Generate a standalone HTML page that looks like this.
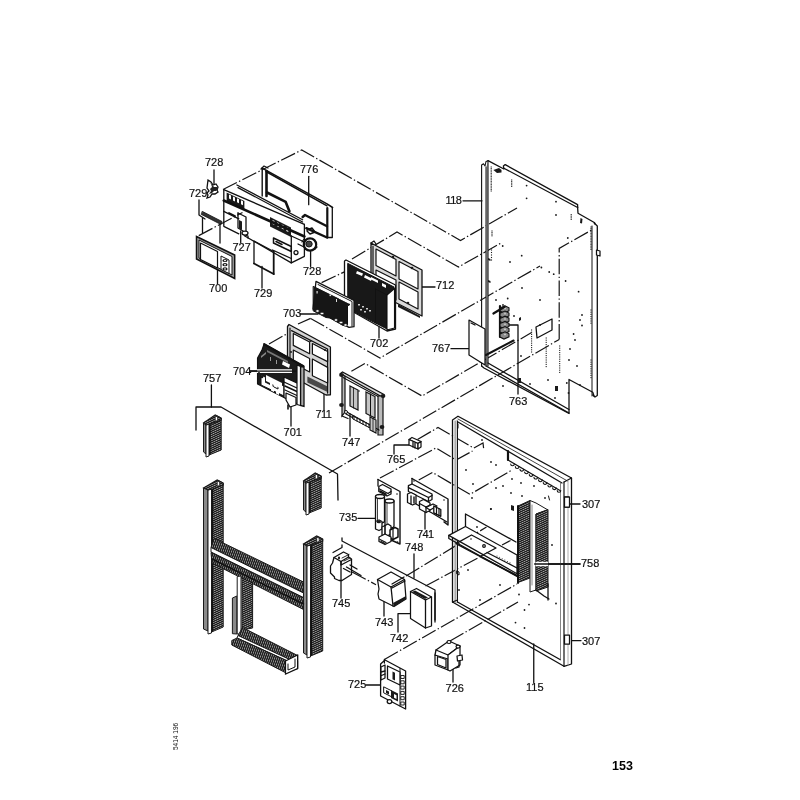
<!DOCTYPE html>
<html><head><meta charset="utf-8"><style>
html,body{margin:0;padding:0;background:#fff;width:800px;height:800px;overflow:hidden}
svg{display:block;transform:translateZ(0)}
.s{fill:none;stroke:#111;stroke-width:1.3;stroke-linejoin:round;stroke-linecap:round}
.dd{fill:none;stroke:#151515;stroke-width:1.2;stroke-dasharray:15.5 2.4 1.4 2.4}
.t{font-family:"Liberation Sans",sans-serif;font-size:11px;fill:#111;stroke:#111;stroke-width:0.2px}
.tb{font-family:"Liberation Sans",sans-serif;font-size:12.5px;font-weight:bold;fill:#000}
.tr{font-family:"Liberation Sans",sans-serif;font-size:6.5px;fill:#111}
.f{fill:#1a1a1a;stroke:none}
.w{fill:#fff;stroke:#111;stroke-width:1.25;stroke-linejoin:round}
.g{fill:#555;stroke:#1a1a1a;stroke-width:1}
</style></head><body>
<svg width="800" height="800" viewBox="0 0 800 800">
<defs>
<pattern id="ribv" patternUnits="userSpaceOnUse" width="6" height="2.1" patternTransform="skewY(-25)"><rect width="6" height="2.1" fill="#1e1e1e"/><rect y="1.5" width="6" height="0.55" fill="#c8c8c8"/></pattern>
<pattern id="ribh" patternUnits="userSpaceOnUse" width="2.1" height="6" patternTransform="skewX(-20)"><rect width="2.1" height="6" fill="#1e1e1e"/><rect x="1.5" width="0.5" height="6" fill="#c8c8c8"/></pattern>
<pattern id="grid" patternUnits="userSpaceOnUse" width="2.5" height="2.5" patternTransform="skewY(27)"><rect width="2.5" height="2.5" fill="#262626"/><rect x="1.7" y="1.7" width="0.6" height="0.6" fill="#888"/></pattern>
<pattern id="grid2" patternUnits="userSpaceOnUse" width="3" height="3" patternTransform="skewY(27)"><rect width="3" height="3" fill="#1c1c1c"/><rect x="2" y="2" width="0.7" height="0.7" fill="#777"/></pattern>
</defs>
<text class="t" x="205" y="166.3">728</text>
<text class="t" x="189" y="197.3">729</text>
<text class="t" x="300" y="173.3">776</text>
<text class="t" x="445.5" y="203.8" style="letter-spacing:-0.6px">118</text>
<text class="t" x="232.5" y="250.8">727</text>
<text class="t" x="303" y="275.3">728</text>
<text class="t" x="209" y="292.3">700</text>
<text class="t" x="254" y="297.3">729</text>
<text class="t" x="436" y="289.3">712</text>
<text class="t" x="283" y="317.3">703</text>
<text class="t" x="370" y="347.3">702</text>
<text class="t" x="432" y="352.3">767</text>
<text class="t" x="233" y="375.3">704</text>
<text class="t" x="203" y="381.8">757</text>
<text class="t" x="509" y="405.3">763</text>
<text class="t" x="315.6" y="418.3" style="letter-spacing:-0.6px">711</text>
<text class="t" x="283.6" y="436.3">701</text>
<text class="t" x="342" y="446.3">747</text>
<text class="t" x="387" y="463.3">765</text>
<text class="t" x="582" y="508.3">307</text>
<text class="t" x="339" y="521.3">735</text>
<text class="t" x="417" y="538.3" style="letter-spacing:-0.6px">741</text>
<text class="t" x="405" y="551.3">748</text>
<text class="t" x="581" y="566.8">758</text>
<text class="t" x="332" y="607.3">745</text>
<text class="t" x="375" y="626.3">743</text>
<text class="t" x="390" y="642.3">742</text>
<text class="t" x="582" y="645.3">307</text>
<text class="t" x="348" y="688.3">725</text>
<text class="t" x="445.6" y="691.7">726</text>
<text class="t" x="526" y="691.3">115</text>
<text class="tb" x="612" y="770">153</text>
<text class="tr" transform="translate(178,750) rotate(-90)">5414 196</text>
<polyline class="s" points="214,170 214,184" />
<polyline class="s" points="199,200 199,215 205,219" />
<polyline class="s" points="308.7,176.3 308.7,204.7" />
<polyline class="s" points="463,200.8 482,200.8" />
<polyline class="s" points="240.7,231 240.7,242.5" />
<polyline class="s" points="310.6,251.5 310.6,266.5" />
<polyline class="s" points="217.5,269.5 217.5,283.7" />
<polyline class="s" points="262,266.5 262,288" />
<polyline class="s" points="418,287 435,287" />
<polyline class="s" points="300,314 318,314" />
<polyline class="s" points="379,326 379,338" />
<polyline class="s" points="451,348.7 473,348.7" />
<polyline class="s" points="508,325 518,325 518,394" />
<polyline class="s" points="250,371 290,371" />
<polyline class="s" points="324,384 324,410" />
<polyline class="s" points="291,404 291,426" />
<polyline class="s" points="350,414 350,436" />
<polyline class="s" points="409,445 394,445 394,454" />
<polyline class="s" points="569,504 580,504" />
<polyline class="s" points="358,518.4 380,518.4" />
<polyline class="s" points="425,509 425,529" />
<polyline class="s" points="533.5,564 580,564" />
<polyline class="s" points="341,581 341,598" />
<polyline class="s" points="384,598 384,616" />
<polyline class="s" points="418,613.6 398,613.6 398,632" />
<polyline class="s" points="572,640.6 581,640.6" />
<polyline class="s" points="366,685 389,685" />
<polyline class="s" points="453,665 453,682" />
<polyline class="s" points="533.75,644 533.75,682.5" />
<polyline class="s" points="211.4,385 211.4,407" />
<polyline class="s" points="196,430 196,407 221,407 337.5,474 338,500" />
<polyline class="s" points="414,554 414,578" />
<polyline class="s" points="342,538 342,541 435,590 435,620" />
<polyline class="s" points="333,552.5 342,547.5 342,545" />
<polyline class="dd" points="223,189.5 301.7,150 460.5,240.5 517,208" />
<polyline class="dd" points="352,259 397,232 458.5,267 501,243" />
<polyline class="dd" points="321.6,282.6 345,271.6" />
<polyline class="dd" points="310.6,318.4 380,358 540,266" />
<polyline class="dd" points="298,324 310.6,318.4" />
<polyline class="dd" points="269,344 289,332.6" />
<polyline class="dd" points="351.4,371.2 365,363.4 422,396 531.6,332.6" />
<polyline class="dd" points="329,473 559.2,339.4" />
<polyline class="dd" points="417.5,439.4 438,427.5 473.75,448 483,443 483.75,449.4" />
<polyline class="dd" points="380,478 436,448 456,460 472.5,451" />
<polyline class="dd" points="418.75,480 432.5,472.5 470,494.4 512,470" />
<polyline class="dd" points="352,572 376,584.7" />
<polyline class="dd" points="406,576 486.5,527" />
<polyline class="dd" points="425.5,586 510.5,540.5" />
<polyline class="dd" points="384.4,659.4 517,584" />
<polyline class="dd" points="450,641 518,602" />
<path fill="#fff" stroke="#111" stroke-width="1.3" d="M208,180 l3,2 l2,3 l3,-1 l2,3 l-1,3 l1,2 l-3,2 l-3,0 l-2,3 l-3,1 l1,-3 l-1,-2 l2,-2 l-2,-3 z"/>
<path fill="#222" d="M209,181 l2,3 l1,3 l-2,2 l1,2 l-2,3 l3,-1 l2,-2 l2,0 l2,-2 l-1,-2 l-3,0 z"/>
<polygon class="s" points="202.5,211.5 222,221.5 221,224.5 201.5,214.5" style="fill:#333;stroke-width:0.8"/>
<polyline class="s" points="202.5,218 202.5,232.5" />
<polyline class="s" points="220,225 220,243" />
<polygon fill="#9a9a9a" stroke="#111" stroke-width="1.5" points="196.5,236.5 234.7,255 234.7,278.5 196.5,259"/>
<polygon class="w" points="199,240 232,256.5 232,275 199,258" style="stroke-width:1"/>
<polygon class="w" points="200.5,243 217.5,251.5 217.5,268 200.5,259.5" style="stroke-width:1.2"/>
<polygon class="w" points="221,256 229,260 229,273.5 221,269.5" style="stroke-width:1"/>
<ellipse class="f" cx="225" cy="260.5" rx="2.6" ry="1.6"/>
<ellipse fill="#fff" cx="225" cy="260.5" rx="1" ry="0.7"/>
<ellipse class="f" cx="225" cy="264.7" rx="2.6" ry="1.6"/>
<ellipse fill="#fff" cx="225" cy="264.7" rx="1" ry="0.7"/>
<ellipse class="f" cx="225" cy="268.9" rx="2.6" ry="1.6"/>
<ellipse fill="#fff" cx="225" cy="268.9" rx="1" ry="0.7"/>
<polyline class="dd" points="198.75,235.6 242.5,212.5" />
<polyline class="s" points="238,213 246,217 246,232" />
<polyline class="s" points="238,213 238,228 243,231" />
<polygon class="f" points="239,220 242,221.5 242,230 239,228.5" />
<polyline class="s" points="243,234 248,236 248,238" />
<ellipse class="w" cx="245" cy="233" rx="3" ry="2"/>
<polyline class="s" points="254,263.5 254,241 273.7,251.5" />
<polyline class="s" points="254,263.5 273.7,274" style="stroke-width:1.8"/>
<polyline class="s" points="273.7,251.5 273.7,274" style="stroke-width:1.8"/>
<ellipse fill="#fff" stroke="#111" stroke-width="2.2" cx="310" cy="244.5" rx="6.2" ry="6.2"/>
<ellipse fill="#444" stroke="#111" stroke-width="1" cx="309" cy="244" rx="3.2" ry="3"/>
<path class="s" d="M304,239 l-2,3 M315,249 l2,-2" style="stroke-width:1.2"/>
<polyline class="s" points="262.2,168.1 327,203.8 332.6,207.5" style="stroke-width:1.5"/>
<polyline class="s" points="266,171.5 327,205.8" style="stroke-width:1.5"/>
<polyline class="s" points="262.2,168.1 262.2,196" style="stroke-width:1.4"/>
<polyline class="s" points="266.5,171 266.5,196" style="stroke-width:2.6"/>
<polyline class="s" points="267,192.5 285.7,201.9 289.4,211.3" style="stroke-width:2.6"/>
<polyline class="s" points="327.3,208 327.3,237.5" style="stroke-width:2.2"/>
<polyline class="s" points="332.3,208 332.3,237.5 327.3,237.5" style="stroke-width:1.3"/>
<polyline class="s" points="302.6,217 305,215 327,226.3" style="stroke-width:2.4"/>
<polyline class="s" points="306.3,228.2 327,237.5" style="stroke-width:2.4"/>
<polyline class="s" points="307,230 312,228 315,232 310,234 307,231" style="stroke-width:1.4"/>
<polyline class="s" points="261,169 264,166 268,168" style="stroke-width:1.2"/>
<polyline class="s" points="223.8,189.7 304.4,224.4" />
<polyline class="s" points="236.9,185 302.6,219.7" style="stroke-width:1.3"/>
<polyline class="s" points="238,187.6 302.6,222" style="stroke-width:1.3"/>
<polygon class="f" points="226.6,192.5 244.4,201 244.4,209.4 226.6,201.9" />
<polygon class="f" points="270,217 291,227.5 291,237 270,226.5" />
<polygon class="w" points="229,194.5 231,195.5 231,199.5 229,198.5" style="stroke-width:0"/>
<polygon class="w" points="233,196.4 235,197.4 235,201.4 233,200.4" style="stroke-width:0"/>
<polygon class="w" points="237,198.3 239,199.3 239,203.3 237,202.3" style="stroke-width:0"/>
<polygon class="w" points="241,200.2 243,201.2 243,205.2 241,204.2" style="stroke-width:0"/>
<polygon class="w" points="272.5,220.0 274.5,221.0 274.5,225.0 272.5,224.0" style="stroke-width:0"/>
<polygon class="w" points="277.1,222.3 279.1,223.3 279.1,227.3 277.1,226.3" style="stroke-width:0"/>
<polygon class="w" points="281.7,224.6 283.7,225.6 283.7,229.6 281.7,228.6" style="stroke-width:0"/>
<polygon class="w" points="286.3,226.9 288.3,227.9 288.3,231.9 286.3,230.9" style="stroke-width:0"/>
<polyline class="s" points="223.8,200.5 304.4,236.5" style="stroke-width:2.6"/>
<polyline class="s" points="223.8,189.7 223.8,226.3 238.8,233.8" />
<polyline class="s" points="223.8,211.3 238.8,218.8" />
<polyline class="s" points="229,213 235,216" style="stroke-width:1.8"/>
<polyline class="s" points="244.4,235.7 291.3,262.9 304.4,256.3 304.4,224.4" />
<polyline class="s" points="291.3,236 291.3,262.9" />
<polyline class="s" points="291.3,236 304.4,242" />
<polygon class="s" points="273.5,238 291.3,246.5 291.3,251.5 273.5,243" style="stroke-width:1.5"/>
<polyline class="s" points="276,241.5 282,244.5" style="stroke-width:1.5"/>
<polyline class="s" points="272.5,250 291.3,258.5" />
<circle class="w" cx="296" cy="252.6" r="2"/>
<polyline class="s" points="298,244 304,247" />
<polygon class="s" points="371,243 422,270 422,316 371,290" style="fill:#dadada;stroke-width:1.3"/>
<polyline class="s" points="371,243 374,241 376,244" />
<polyline class="s" points="373,246 373,288" style="stroke-width:1.2"/>
<polygon class="w" points="376,249 396,259.5 396,276 376,265.5" style="stroke-width:1.2"/>
<polygon class="w" points="399,261.5 418,271.5 418,289 399,279" style="stroke-width:1.2"/>
<polygon class="w" points="399,282 418,292 418,309 399,299" style="stroke-width:1.2"/>
<polygon class="w" points="376,270 396,280 396,300 376,290" style="stroke-width:1.2"/>
<polygon class="f" points="398,304 420,316 420,318 398,307" />
<circle class="f" cx="393" cy="257" r="1.3"/><circle class="f" cx="412" cy="268" r="1.3"/><circle class="f" cx="408" cy="303" r="1.3"/>
<polygon class="w" points="346,260 395.5,285 395.5,329 387,331 344.5,307 344.5,261" style="stroke-width:1.3"/>
<polygon class="s" points="348,263.5 394,287 394,291 387,295 387,329 375.5,323 362,316 353,311 348,306" style="fill:#181818;stroke-width:1"/>
<polygon class="w" points="387,295 394.5,288.5 394.5,328 387,330" style="stroke-width:1.1"/>
<polyline class="s" points="375.5,289 375.5,323" style="stroke-width:1"/>
<polyline class="s" points="375.5,289 387,295" style="stroke-width:0.8"/>
<polygon class="w" points="357,271 363,273.5 362,276 356,273.5" style="stroke-width:0"/>
<polygon class="w" points="365,275 372,278.5 371,281 364,277.5" style="stroke-width:0"/>
<polygon class="w" points="371,277 378,280.5 378,283 371,279.5" style="stroke-width:0"/>
<polygon class="w" points="382,283 386,285 386,288 382,286" style="stroke-width:0"/>
<rect fill="#ccc" x="358" y="304" width="2" height="1.5"/>
<rect fill="#ccc" x="362" y="306" width="2" height="1.5"/>
<rect fill="#ccc" x="366" y="308" width="2" height="1.5"/>
<rect fill="#ccc" x="360" y="309" width="2" height="1.5"/>
<rect fill="#ccc" x="364" y="311" width="2" height="1.5"/>
<rect fill="#ccc" x="369" y="310" width="2" height="1.5"/>
<polygon class="w" points="316,281.3 354,300.5 354,326.7 349,327.3 313,309" style="stroke-width:1.3"/>
<polygon class="s" points="313.5,286.5 350,304.5 347.5,306 347.5,325 343,325.5 330,318 326,317.5 313.5,311" style="fill:#161616;stroke-width:1"/>
<polyline class="s" points="318,284.5 352,301.5 352,326" style="stroke-width:1"/>
<ellipse fill="#fff" stroke="#111" stroke-width="0.7" cx="317.5" cy="311" rx="1.8" ry="1.3"/>
<ellipse fill="#fff" stroke="#111" stroke-width="0.7" cx="322" cy="313.5" rx="1.8" ry="1.3"/>
<ellipse fill="#fff" stroke="#111" stroke-width="0.7" cx="336" cy="320" rx="1.8" ry="1.3"/>
<ellipse fill="#fff" stroke="#111" stroke-width="0.7" cx="341" cy="322.5" rx="1.8" ry="1.3"/>
<ellipse fill="#fff" stroke="#111" stroke-width="0.7" cx="345.5" cy="325" rx="1.8" ry="1.3"/>
<polygon class="w" points="339,297 349,302 349,303.5 339,298.5" style="stroke-width:0"/>
<rect fill="#ddd" x="316.5" y="291" width="1.2" height="2.5"/><rect fill="#ddd" x="329.5" y="294.5" width="1.6" height="1.6"/><rect fill="#ddd" x="336" y="299" width="1" height="3"/>
<polygon fill="#bdbdbd" stroke="none" points="486,167 488,162 488,366 486,366"/>
<polyline class="s" points="481.6,366 481.6,165 483.5,163.8 485,166 486,161.5 488,160.7" style="stroke-width:1.1"/>
<polyline class="s" points="486,167 486,366" style="stroke-width:1"/>
<polyline class="s" points="488,160.7 488,366" style="stroke-width:1.1"/>
<polyline class="s" points="488,160.7 503.9,169 503.4,166 505.2,164.6 577.6,204.6 577.6,207.5" />
<polyline class="s" points="503.9,168.2 577.6,207.5" />
<polyline class="s" points="577.6,207 578,213.2 594.7,222.8 595,224" />
<polyline class="s" points="592,226 592,396" style="stroke-width:1"/>
<polyline class="s" points="594.2,223 597.3,226 597.3,395.5 595,397 592.75,395" />
<polygon class="w" points="596.5,250 600,251 600,256 596.5,255" />
<polyline class="s" points="481.6,366 484,368 569,413.5 569,379.5 592.75,392.25 594,396" />
<polyline class="s" points="488,363 569,409.5" />
<polyline class="s" points="486,366 569,413" />
<polyline class="dd" points="559.2,339.4 559.2,248.4 592,229.8" />
<rect class="f" x="559.1500000000001" y="345.45" width="1.1" height="1.1"/>
<rect class="f" x="559.1500000000001" y="347.65" width="1.1" height="1.1"/>
<rect class="f" x="559.1500000000001" y="349.84999999999997" width="1.1" height="1.1"/>
<rect class="f" x="559.1500000000001" y="352.04999999999995" width="1.1" height="1.1"/>
<rect class="f" x="559.1500000000001" y="354.24999999999994" width="1.1" height="1.1"/>
<rect class="f" x="559.1500000000001" y="356.44999999999993" width="1.1" height="1.1"/>
<rect class="f" x="559.1500000000001" y="358.6499999999999" width="1.1" height="1.1"/>
<rect class="f" x="559.1500000000001" y="360.8499999999999" width="1.1" height="1.1"/>
<rect class="f" x="559.1500000000001" y="363.0499999999999" width="1.1" height="1.1"/>
<rect class="f" x="559.1500000000001" y="365.2499999999999" width="1.1" height="1.1"/>
<rect class="f" x="559.1500000000001" y="367.4499999999999" width="1.1" height="1.1"/>
<rect class="f" x="559.1500000000001" y="369.64999999999986" width="1.1" height="1.1"/>
<rect class="f" x="559.1500000000001" y="371.84999999999985" width="1.1" height="1.1"/>
<rect class="f" x="490.65" y="166.45" width="1.1" height="1.1"/>
<rect class="f" x="490.65" y="168.04999999999998" width="1.1" height="1.1"/>
<rect class="f" x="490.65" y="169.64999999999998" width="1.1" height="1.1"/>
<rect class="f" x="490.65" y="171.24999999999997" width="1.1" height="1.1"/>
<rect class="f" x="490.65" y="172.84999999999997" width="1.1" height="1.1"/>
<rect class="f" x="490.65" y="174.44999999999996" width="1.1" height="1.1"/>
<rect class="f" x="490.65" y="176.04999999999995" width="1.1" height="1.1"/>
<rect class="f" x="490.65" y="177.64999999999995" width="1.1" height="1.1"/>
<rect class="f" x="490.65" y="179.24999999999994" width="1.1" height="1.1"/>
<rect class="f" x="490.65" y="180.84999999999994" width="1.1" height="1.1"/>
<rect class="f" x="490.65" y="182.44999999999993" width="1.1" height="1.1"/>
<rect class="f" x="490.65" y="184.04999999999993" width="1.1" height="1.1"/>
<rect class="f" x="490.65" y="185.64999999999992" width="1.1" height="1.1"/>
<rect class="f" x="490.65" y="187.24999999999991" width="1.1" height="1.1"/>
<rect class="f" x="490.65" y="188.8499999999999" width="1.1" height="1.1"/>
<rect class="f" x="490.65" y="190.4499999999999" width="1.1" height="1.1"/>
<rect class="f" x="590.45" y="226.45" width="1.1" height="1.1"/>
<rect class="f" x="590.45" y="228.04999999999998" width="1.1" height="1.1"/>
<rect class="f" x="590.45" y="229.64999999999998" width="1.1" height="1.1"/>
<rect class="f" x="590.45" y="231.24999999999997" width="1.1" height="1.1"/>
<rect class="f" x="590.45" y="232.84999999999997" width="1.1" height="1.1"/>
<rect class="f" x="590.45" y="234.44999999999996" width="1.1" height="1.1"/>
<rect class="f" x="590.45" y="236.04999999999995" width="1.1" height="1.1"/>
<rect class="f" x="590.45" y="237.64999999999995" width="1.1" height="1.1"/>
<rect class="f" x="590.45" y="239.24999999999994" width="1.1" height="1.1"/>
<rect class="f" x="590.45" y="240.84999999999994" width="1.1" height="1.1"/>
<rect class="f" x="590.45" y="242.44999999999993" width="1.1" height="1.1"/>
<rect class="f" x="590.45" y="244.04999999999993" width="1.1" height="1.1"/>
<rect class="f" x="590.45" y="245.64999999999992" width="1.1" height="1.1"/>
<rect class="f" x="590.45" y="247.24999999999991" width="1.1" height="1.1"/>
<rect class="f" x="590.45" y="248.8499999999999" width="1.1" height="1.1"/>
<rect class="f" x="491.45" y="230.45" width="1.1" height="1.1"/>
<rect class="f" x="491.45" y="232.04999999999998" width="1.1" height="1.1"/>
<rect class="f" x="491.45" y="233.64999999999998" width="1.1" height="1.1"/>
<rect class="f" x="491.45" y="235.24999999999997" width="1.1" height="1.1"/>
<rect class="f" x="490.95" y="249.45" width="1.1" height="1.1"/>
<rect class="f" x="490.95" y="251.95" width="1.1" height="1.1"/>
<rect class="f" x="490.95" y="254.45" width="1.1" height="1.1"/>
<rect class="f" x="490.95" y="256.95" width="1.1" height="1.1"/>
<rect class="f" x="490.95" y="259.45" width="1.1" height="1.1"/>
<rect class="f" x="511.15" y="179.45" width="1.1" height="1.1"/>
<rect class="f" x="511.15" y="181.04999999999998" width="1.1" height="1.1"/>
<rect class="f" x="511.15" y="182.64999999999998" width="1.1" height="1.1"/>
<rect class="f" x="511.15" y="184.24999999999997" width="1.1" height="1.1"/>
<rect class="f" x="511.15" y="185.84999999999997" width="1.1" height="1.1"/>
<rect class="f" x="570.6500000000001" y="214.04999999999998" width="1.1" height="1.1"/>
<rect class="f" x="570.6500000000001" y="215.64999999999998" width="1.1" height="1.1"/>
<rect class="f" x="570.6500000000001" y="217.24999999999997" width="1.1" height="1.1"/>
<rect class="f" x="570.6500000000001" y="218.84999999999997" width="1.1" height="1.1"/>
<rect class="f" x="531.0500000000001" y="329.45" width="1.1" height="1.1"/>
<rect class="f" x="531.0500000000001" y="331.65" width="1.1" height="1.1"/>
<rect class="f" x="531.0500000000001" y="333.84999999999997" width="1.1" height="1.1"/>
<rect class="f" x="531.0500000000001" y="336.04999999999995" width="1.1" height="1.1"/>
<rect class="f" x="531.0500000000001" y="338.24999999999994" width="1.1" height="1.1"/>
<rect class="f" x="531.0500000000001" y="340.44999999999993" width="1.1" height="1.1"/>
<rect class="f" x="531.0500000000001" y="342.6499999999999" width="1.1" height="1.1"/>
<rect class="f" x="531.0500000000001" y="344.8499999999999" width="1.1" height="1.1"/>
<rect class="f" x="531.0500000000001" y="347.0499999999999" width="1.1" height="1.1"/>
<rect class="f" x="531.0500000000001" y="349.2499999999999" width="1.1" height="1.1"/>
<rect class="f" x="531.0500000000001" y="351.4499999999999" width="1.1" height="1.1"/>
<rect class="f" x="545.6500000000001" y="337.45" width="1.1" height="1.1"/>
<rect class="f" x="545.6500000000001" y="339.65" width="1.1" height="1.1"/>
<rect class="f" x="545.6500000000001" y="341.84999999999997" width="1.1" height="1.1"/>
<rect class="f" x="545.6500000000001" y="344.04999999999995" width="1.1" height="1.1"/>
<rect class="f" x="545.6500000000001" y="346.24999999999994" width="1.1" height="1.1"/>
<rect class="f" x="545.6500000000001" y="348.44999999999993" width="1.1" height="1.1"/>
<rect class="f" x="545.6500000000001" y="350.6499999999999" width="1.1" height="1.1"/>
<rect class="f" x="545.6500000000001" y="352.8499999999999" width="1.1" height="1.1"/>
<rect class="f" x="545.6500000000001" y="355.0499999999999" width="1.1" height="1.1"/>
<rect class="f" x="545.6500000000001" y="357.2499999999999" width="1.1" height="1.1"/>
<rect class="f" x="545.6500000000001" y="359.4499999999999" width="1.1" height="1.1"/>
<rect class="f" x="545.6500000000001" y="361.64999999999986" width="1.1" height="1.1"/>
<rect class="f" x="545.6500000000001" y="363.84999999999985" width="1.1" height="1.1"/>
<rect class="f" x="545.6500000000001" y="366.04999999999984" width="1.1" height="1.1"/>
<rect class="f" x="590.45" y="309.45" width="1.1" height="1.1"/>
<rect class="f" x="590.45" y="311.65" width="1.1" height="1.1"/>
<rect class="f" x="590.45" y="313.84999999999997" width="1.1" height="1.1"/>
<rect class="f" x="590.45" y="316.04999999999995" width="1.1" height="1.1"/>
<rect class="f" x="590.45" y="318.24999999999994" width="1.1" height="1.1"/>
<rect class="f" x="590.45" y="320.44999999999993" width="1.1" height="1.1"/>
<rect class="f" x="590.45" y="322.6499999999999" width="1.1" height="1.1"/>
<rect class="f" x="590.45" y="359.45" width="1.1" height="1.1"/>
<rect class="f" x="590.45" y="361.65" width="1.1" height="1.1"/>
<rect class="f" x="590.45" y="363.84999999999997" width="1.1" height="1.1"/>
<rect class="f" x="590.45" y="366.04999999999995" width="1.1" height="1.1"/>
<rect class="f" x="590.45" y="368.24999999999994" width="1.1" height="1.1"/>
<rect class="f" x="590.45" y="370.44999999999993" width="1.1" height="1.1"/>
<rect class="f" x="590.45" y="372.6499999999999" width="1.1" height="1.1"/>
<rect class="f" x="590.45" y="374.8499999999999" width="1.1" height="1.1"/>
<rect class="f" x="590.45" y="377.0499999999999" width="1.1" height="1.1"/>
<circle class="f" cx="526.6" cy="185.6" r="0.9"/>
<circle class="f" cx="526.6" cy="198.3" r="0.9"/>
<circle class="f" cx="556" cy="201.7" r="0.9"/>
<circle class="f" cx="556" cy="215" r="0.9"/>
<circle class="f" cx="567.8" cy="238" r="0.9"/>
<circle class="f" cx="521.7" cy="255.7" r="0.9"/>
<circle class="f" cx="541.4" cy="267.5" r="0.9"/>
<circle class="f" cx="549.2" cy="272" r="0.9"/>
<circle class="f" cx="553.7" cy="274.2" r="0.9"/>
<circle class="f" cx="565.6" cy="281" r="0.9"/>
<circle class="f" cx="510" cy="262" r="0.9"/>
<circle class="f" cx="522" cy="288" r="0.9"/>
<circle class="f" cx="540" cy="300" r="0.9"/>
<circle class="f" cx="503" cy="305" r="0.9"/>
<circle class="f" cx="496" cy="300" r="0.9"/>
<circle class="f" cx="514" cy="316" r="0.9"/>
<circle class="f" cx="540" cy="325" r="0.9"/>
<circle class="f" cx="580" cy="320" r="0.9"/>
<circle class="f" cx="575" cy="340" r="0.9"/>
<circle class="f" cx="569" cy="360" r="0.9"/>
<circle class="f" cx="548" cy="380" r="0.9"/>
<circle class="f" cx="530" cy="384" r="0.9"/>
<circle class="f" cx="503" cy="386" r="0.9"/>
<circle class="f" cx="555" cy="398" r="0.9"/>
<circle class="f" cx="580" cy="385" r="0.9"/>
<circle class="f" cx="502.7" cy="246" r="0.9"/>
<circle class="f" cx="578.6" cy="291.7" r="0.9"/>
<circle class="f" cx="507.7" cy="298.5" r="0.9"/>
<circle class="f" cx="582" cy="315" r="0.9"/>
<circle class="f" cx="582" cy="325.5" r="0.9"/>
<circle class="f" cx="573.6" cy="334" r="0.9"/>
<circle class="f" cx="570" cy="349" r="0.9"/>
<circle class="f" cx="577" cy="366" r="0.9"/>
<circle class="f" cx="521" cy="356" r="0.9"/>
<circle class="f" cx="566.8" cy="383" r="0.9"/>
<circle class="f" cx="568.5" cy="393" r="0.9"/>
<polygon class="f" points="493.4,170 499,168 501.5,170 501.5,172.5 497,173" />
<polygon class="f" points="580.5,218 582.5,219 582,223.5 580,223" />
<polygon class="w" points="469,320 485,329 485,365 469,355" />
<polyline class="s" points="471,323 475,325" />
<polygon class="s" points="536,327 552,319 552,330 537,338" />
<polyline class="s" points="500,306 500,337" style="stroke-width:2.2"/>
<path fill="#8a8a8a" stroke="#111" stroke-width="1.1" d="M500,308.0 l5,-2.2 l4,2 l0,3 l-5,2.3 l-4,-2 z"/>
<circle fill="#ddd" cx="505" cy="308.6" r="0.8"/>
<path fill="#8a8a8a" stroke="#111" stroke-width="1.1" d="M500,313.2 l5,-2.2 l4,2 l0,3 l-5,2.3 l-4,-2 z"/>
<circle fill="#ddd" cx="505" cy="313.8" r="0.8"/>
<path fill="#8a8a8a" stroke="#111" stroke-width="1.1" d="M500,318.4 l5,-2.2 l4,2 l0,3 l-5,2.3 l-4,-2 z"/>
<circle fill="#ddd" cx="505" cy="319.0" r="0.8"/>
<path fill="#8a8a8a" stroke="#111" stroke-width="1.1" d="M500,323.6 l5,-2.2 l4,2 l0,3 l-5,2.3 l-4,-2 z"/>
<circle fill="#ddd" cx="505" cy="324.20000000000005" r="0.8"/>
<path fill="#8a8a8a" stroke="#111" stroke-width="1.1" d="M500,328.8 l5,-2.2 l4,2 l0,3 l-5,2.3 l-4,-2 z"/>
<circle fill="#ddd" cx="505" cy="329.40000000000003" r="0.8"/>
<path fill="#8a8a8a" stroke="#111" stroke-width="1.1" d="M500,334.0 l5,-2.2 l4,2 l0,3 l-5,2.3 l-4,-2 z"/>
<circle fill="#ddd" cx="505" cy="334.6" r="0.8"/>
<polyline class="s" points="493.4,313.5 504.6,306.75" style="stroke-width:2.2"/>
<polyline class="s" points="486,355 513.6,340.5" style="stroke-width:2"/>
<rect class="f" x="518" y="378" width="3" height="5"/>
<rect class="f" x="555" y="386" width="3" height="5"/>
<polygon class="f" points="519,318 521,317 521,320 519,321" />
<polygon class="f" points="488,258 490.5,259 490.5,261 488,260" />
<polygon class="f" points="488,280 490.5,281 490.5,283 488,282" />
<polygon class="s" points="287.5,326.5 289,324.5 330.4,347 330.4,394.8 326,395 287.5,374" style="fill:#d4d4d4;stroke-width:1.3"/>
<polyline class="s" points="290,328 290,360" style="stroke-width:1.2"/>
<polyline class="s" points="291.6,330.7 327.6,349 327.6,393" />
<polygon class="w" points="293.3,333.5 309.6,342 309.6,353.7 293.3,345.4" style="stroke-width:1.2"/>
<polygon class="w" points="312.4,343.5 327.6,351.5 327.6,361.6 312.4,354" style="stroke-width:1.2"/>
<polygon class="w" points="312.4,359 327.6,367.4 327.6,383 312.4,375.7" style="stroke-width:1.2"/>
<polygon class="w" points="293.3,350 309.6,358.5 309.6,372 293.3,363.5" style="stroke-width:1.2"/>
<polygon class="f" points="307.4,376.5 327.6,386.5 327.6,392 307.4,382.5" style="fill-opacity:0.75"/>
<circle class="f" cx="310.5" cy="341" r="1.1"/><circle class="f" cx="325" cy="350" r="1"/><circle class="f" cx="291" cy="352" r="1"/>
<polygon class="s" points="264.2,344.1 303.5,366.1 299,370 299,398 290,400 283,397 257.6,384 257.6,358 262,350" style="fill:#1c1c1c"/>
<polygon class="w" points="261,375 284,386 284,396 261,385" style="stroke-width:1"/>
<polygon class="f" points="265,377 270,379.5 270,385 265,382.5" />
<polygon class="w" points="273,381 278,383.5 278,389 273,386.5" style="stroke-width:1"/>
<polygon class="s" points="267,350 288,361 288,363 267,352" style="fill:#777;stroke:none"/>
<polygon class="s" points="261,356 266,352 266,354 261,358" style="fill:#888;stroke:none"/>
<rect fill="#999" x="270" y="357" width="1" height="4"/><rect fill="#999" x="276" y="360" width="1" height="4"/>
<polygon class="w" points="283,361 290,364.5 289,368 282,364.5" style="stroke-width:0"/>
<polygon class="w" points="257,369.3 292,369.3 292,373.1 257,373.1" style="stroke-width:0"/>
<polygon class="w" points="266,375 282,383 282,389 266,381" style="stroke-width:0"/>
<polygon class="w" points="271,386 274,387.5 274,392 271,390.5" style="stroke-width:0"/>
<polygon class="w" points="276,390 279,391.5 279,395 276,393.5" style="stroke-width:0"/>
<polygon class="w" points="284,377 298,383.5 298,404 284,397.5" />
<polyline class="s" points="284,382 298,388.5" />
<polyline class="s" points="285,386 298,392" style="stroke-width:1.6"/>
<polyline class="s" points="285,390 298,396" />
<polygon class="w" points="286,393 296,397.5 296,405 290,407 286,400" />
<polyline class="s" points="288,405 288,409" style="stroke-width:1.6"/>
<circle class="f" cx="262" cy="377" r="1.3"/><circle class="f" cx="259" cy="373" r="1.1"/>
<polygon fill="#aaa" stroke="#111" stroke-width="1.3" points="300.5,366.5 304,367 304,406.4 300.5,405.5"/>
<polygon class="w" points="297,365 300.5,366.5 300.5,405.5 297,404.5" style="stroke-width:1.2"/>
<polyline class="s" points="264.2,344.1 303.5,366.1" style="stroke-width:2.2"/>
<polyline class="s" points="250,371.2 296,371.2" />
<polygon fill="#bbb" stroke="#111" stroke-width="1.2" points="342,375 345,374.5 345,412 342,416"/>
<polyline class="s" points="342,416 348,418.5" style="stroke-width:1.3"/>
<polygon fill="#ddd" stroke="#111" stroke-width="1.3" points="340.5,373.5 342.5,372 384,394.5 383,397.5"/>
<polyline class="s" points="343,377.5 380,397.5" style="stroke-width:1.1"/>
<polygon fill="#bbb" stroke="#111" stroke-width="1.2" points="378,396 383,396 383,435 378,435"/>
<polygon fill="#c4c4c4" stroke="#111" stroke-width="1.2" points="350,386 358,390 358,410 350,406"/>
<polyline class="s" points="353.5,388 353.5,408" style="stroke-width:0.8"/>
<polygon fill="#c4c4c4" stroke="#111" stroke-width="1.2" points="366,392 375,396.5 375,418 366,413.5"/>
<polyline class="s" points="370.5,394 370.5,416" style="stroke-width:1"/>
<polyline class="s" points="345,411 379,430" style="stroke-width:1.4"/>
<polyline class="s" points="346,414 376,430.5" />
<polygon class="s" points="353,416 371,425.5 371,428.5 353,419" style="fill:#fff;stroke-width:1"/>
<polyline class="s" points="354,416.0 354,419.5" style="stroke-width:1"/>
<polyline class="s" points="357,417.6 357,421.1" style="stroke-width:1"/>
<polyline class="s" points="360,419.2 360,422.7" style="stroke-width:1"/>
<polyline class="s" points="363,420.8 363,424.3" style="stroke-width:1"/>
<polyline class="s" points="366,422.4 366,425.9" style="stroke-width:1"/>
<polyline class="s" points="369,424.0 369,427.5" style="stroke-width:1"/>
<polygon fill="#c8c8c8" stroke="#111" stroke-width="1.1" points="370,417 376,420 376,433 370,430"/>
<polyline class="s" points="373,418.5 373,431.5" style="stroke-width:0.8"/>
<ellipse class="f" cx="341.5" cy="375" rx="2.4" ry="2"/>
<ellipse class="f" cx="383" cy="396" rx="2.4" ry="2"/>
<ellipse class="f" cx="341.5" cy="405" rx="2.4" ry="2"/>
<ellipse class="f" cx="382" cy="427" rx="2.4" ry="2"/>
<circle class="f" cx="359" cy="391" r="0.8"/>
<circle class="w" cx="346" cy="412" r="1.5" style="stroke-width:1"/>
<polygon fill="url(#ribv)" stroke="#1a1a1a" stroke-width="1" points="209.0,422 217.2,416 221.2,418 221.2,450 209.0,455"/>
<polygon fill="#8a8a8a" stroke="#1a1a1a" stroke-width="1" points="203.5,423 206.0,421 206.0,454 203.5,452"/>
<polygon fill="#fff" stroke="#1a1a1a" stroke-width="1" points="206.0,425 209.0,423 209.0,456 206.0,457"/>
<polyline class="s" points="210.0,423 210.0,454" style="stroke-width:1.4"/>
<polygon fill="url(#ribv)" stroke="#1a1a1a" stroke-width="1.1" points="203.5,423 215.2,415 221.2,418 221.2,420 210.0,424 206.0,425"/>
<path fill="#fff" stroke="#111" stroke-width="0.8" d="M215.2,416 l2.5,1 l0,3.5 l-2.5,0.8 z"/>
<polygon fill="url(#ribv)" stroke="#1a1a1a" stroke-width="1" points="309.0,480 317.2,474 321.2,476 321.2,508 309.0,513"/>
<polygon fill="#8a8a8a" stroke="#1a1a1a" stroke-width="1" points="303.5,481 306.0,479 306.0,512 303.5,510"/>
<polygon fill="#fff" stroke="#1a1a1a" stroke-width="1" points="306.0,483 309.0,481 309.0,514 306.0,515"/>
<polyline class="s" points="310.0,481 310.0,512" style="stroke-width:1.4"/>
<polygon fill="url(#ribv)" stroke="#1a1a1a" stroke-width="1.1" points="303.5,481 315.2,473 321.2,476 321.2,478 310.0,482 306.0,483"/>
<path fill="#fff" stroke="#111" stroke-width="0.8" d="M315.2,474 l2.5,1 l0,3.5 l-2.5,0.8 z"/>
<polygon fill="url(#ribv)" stroke="#1a1a1a" stroke-width="1" points="211.5,487 219.2,481 223.2,483 223.2,627 211.5,632"/>
<polygon fill="#8a8a8a" stroke="#1a1a1a" stroke-width="1" points="203.5,488 208.0,486 208.0,631 203.5,629"/>
<polygon fill="#fff" stroke="#1a1a1a" stroke-width="1" points="208.0,490 211.5,488 211.5,633 208.0,634"/>
<polyline class="s" points="212.5,488 212.5,631" style="stroke-width:1.4"/>
<polygon fill="url(#ribv)" stroke="#1a1a1a" stroke-width="1.1" points="203.5,488 217.2,480 223.2,483 223.2,485 212.5,489 208.0,490"/>
<path fill="#fff" stroke="#111" stroke-width="0.8" d="M217.2,481 l2.5,1 l0,3.5 l-2.5,0.8 z"/>
<polygon fill="url(#ribv)" stroke="#1a1a1a" stroke-width="1" points="310.5,543 318.7,537 322.7,539 322.7,651 310.5,656"/>
<polygon fill="#8a8a8a" stroke="#1a1a1a" stroke-width="1" points="303.5,544 307.0,542 307.0,655 303.5,653"/>
<polygon fill="#fff" stroke="#1a1a1a" stroke-width="1" points="307.0,546 310.5,544 310.5,657 307.0,658"/>
<polyline class="s" points="311.5,544 311.5,655" style="stroke-width:1.4"/>
<polygon fill="url(#ribv)" stroke="#1a1a1a" stroke-width="1.1" points="303.5,544 316.7,536 322.7,539 322.7,541 311.5,545 307.0,546"/>
<path fill="#fff" stroke="#111" stroke-width="0.8" d="M316.7,537 l2.5,1 l0,3.5 l-2.5,0.8 z"/>
<polygon fill="url(#ribh)" stroke="#1a1a1a" stroke-width="1" points="214,538.5 303.5,582 303.5,592.5 211,547.5"/>
<polygon fill="#fff" stroke="#1a1a1a" stroke-width="1" points="211,547.5 303.5,593 303.5,597.5 211,552"/>
<polygon fill="url(#ribh)" stroke="#1a1a1a" stroke-width="1" points="211,552.5 303.5,598 303.5,609.5 212,563"/>
<polyline class="s" points="212,559 303.5,604" style="stroke-width:1.4"/>
<polygon fill="#8a8a8a" stroke="#1a1a1a" stroke-width="1" points="232.4,598 236.9,596 236.9,634 232.4,633.7"/>
<polygon fill="#fff" stroke="#1a1a1a" stroke-width="1" points="237.2,576.5 241,576 241,634 237.2,634"/>
<polygon fill="url(#ribv)" stroke="#1a1a1a" stroke-width="1" points="242,578 252.6,583 252.6,628 242,630"/>
<polygon fill="url(#ribh)" stroke="#1a1a1a" stroke-width="1" points="242.5,627.5 297.6,655.5 294,661.5 238,635.5"/>
<polygon fill="#fff" stroke="#1a1a1a" stroke-width="1" points="238,635.5 294,661.5 294,664 237,638"/>
<polygon fill="url(#ribh)" stroke="#1a1a1a" stroke-width="1" points="231.8,640.5 237,638 294,664 297.6,661 297.6,668.6 285.2,672.5 231.8,645"/>
<polyline class="s" points="297.6,655.5 297.6,668.6" style="stroke-width:1.2"/>
<polygon fill="#fff" stroke="#111" stroke-width="1.2" points="285.5,661 297.6,655 297.6,668.6 285.5,674"/>
<path class="s" style="stroke-width:1" d="M288,664 L288,670 L295,667 L295,659"/>
<polygon fill="#d0d0d0" stroke="none" points="455,421 457.5,419 457.5,603 455,603"/>
<polyline class="s" points="452.5,602 452.5,420 458,416.25 571.5,478 571.5,664 564,666.3" />
<polyline class="s" points="457.5,421 457.5,602" style="stroke-width:1"/>
<polyline class="s" points="455,421 455,602" style="stroke-width:0.7;stroke:#666"/>
<polyline class="s" points="458,422 562,483" />
<polyline class="s" points="458,419 567.5,481" style="stroke-width:0.8"/>
<polyline class="s" points="564,482 571.5,478" />
<polyline class="s" points="560.5,483 560.5,660" style="stroke-width:0.9;stroke:#777"/>
<polyline class="s" points="564,482 564,666" style="stroke-width:1.2"/>
<polyline class="s" points="568,480.5 568,665" style="stroke-width:0.8;stroke:#999"/>
<polyline class="s" points="452.5,602 564,666.3" />
<polyline class="s" points="457.5,602 560,659.5" />
<polyline class="s" points="452.5,602 457.5,600" />
<polyline class="s" points="508,451 508,460" style="stroke-width:2.2"/>
<polyline class="s" points="508,460 560,490.5" style="stroke-width:1.2"/>
<path class="s" style="stroke-width:1.1" d="M510.7,464.0 a1.8,1.8 0 1 0 3.6,0"/>
<path class="s" style="stroke-width:1.1" d="M515.35,466.65 a1.8,1.8 0 1 0 3.6,0"/>
<path class="s" style="stroke-width:1.1" d="M520.0,469.3 a1.8,1.8 0 1 0 3.6,0"/>
<path class="s" style="stroke-width:1.1" d="M524.6500000000001,471.95 a1.8,1.8 0 1 0 3.6,0"/>
<path class="s" style="stroke-width:1.1" d="M529.3000000000001,474.6 a1.8,1.8 0 1 0 3.6,0"/>
<path class="s" style="stroke-width:1.1" d="M533.95,477.25 a1.8,1.8 0 1 0 3.6,0"/>
<path class="s" style="stroke-width:1.1" d="M538.6,479.9 a1.8,1.8 0 1 0 3.6,0"/>
<path class="s" style="stroke-width:1.1" d="M543.25,482.55 a1.8,1.8 0 1 0 3.6,0"/>
<path class="s" style="stroke-width:1.1" d="M547.9000000000001,485.2 a1.8,1.8 0 1 0 3.6,0"/>
<path class="s" style="stroke-width:1.1" d="M552.5500000000001,487.85 a1.8,1.8 0 1 0 3.6,0"/>
<path class="s" style="stroke-width:1.1" d="M557.2,490.5 a1.8,1.8 0 1 0 3.6,0"/>
<circle class="f" cx="466" cy="470" r="0.9"/>
<circle class="f" cx="473" cy="484" r="0.9"/>
<circle class="f" cx="472" cy="498" r="0.9"/>
<circle class="f" cx="491" cy="462" r="0.9"/>
<circle class="f" cx="496" cy="465" r="0.9"/>
<circle class="f" cx="496" cy="488" r="0.9"/>
<circle class="f" cx="503" cy="486" r="0.9"/>
<circle class="f" cx="512" cy="479" r="0.9"/>
<circle class="f" cx="511" cy="493" r="0.9"/>
<circle class="f" cx="521" cy="483" r="0.9"/>
<circle class="f" cx="534" cy="486" r="0.9"/>
<circle class="f" cx="522" cy="496" r="0.9"/>
<circle class="f" cx="545" cy="498" r="0.9"/>
<circle class="f" cx="491" cy="509" r="0.9"/>
<circle class="f" cx="482" cy="440" r="0.9"/>
<circle class="f" cx="490.8" cy="509" r="0.9"/>
<circle class="f" cx="477" cy="527" r="0.9"/>
<circle class="f" cx="459" cy="590" r="0.9"/>
<circle class="f" cx="519" cy="594.5" r="0.9"/>
<circle class="f" cx="524.5" cy="610" r="0.9"/>
<circle class="f" cx="529" cy="604.6" r="0.9"/>
<circle class="f" cx="515.5" cy="622.6" r="0.9"/>
<circle class="f" cx="524.5" cy="628" r="0.9"/>
<circle class="f" cx="556" cy="603.5" r="0.9"/>
<circle class="f" cx="545" cy="520" r="0.9"/>
<circle class="f" cx="552" cy="545" r="0.9"/>
<circle class="f" cx="468" cy="570" r="0.9"/>
<circle class="f" cx="480" cy="600" r="0.9"/>
<circle class="f" cx="500" cy="585" r="0.9"/>
<polyline class="s" points="564.5,497 569,497 569,507 564.5,507" style="stroke-width:1.4"/>
<rect class="w" x="564.5" y="497" width="5" height="10"/>
<rect class="w" x="564.5" y="635" width="5" height="9"/>
<polyline class="s" points="458,424 458,428" style="stroke-width:1"/>
<polyline class="s" points="548.5,496 549.5,500" style="stroke-width:1"/>
<path class="s" style="stroke-width:1" d="M457,571 l2,1 l0,3 l-2,-1 z"/>
<polygon fill="url(#ribv)" stroke="#1a1a1a" stroke-width="1" points="518,506 530,500.5 530,578 518,582.5"/>
<polyline class="s" points="518,506 518,583" style="stroke-width:2"/>
<polygon fill="#fff" stroke="#1a1a1a" stroke-width="1" points="530,500.5 536,503 548,510 536,514 536,590 530,592 530,578"/>
<polygon fill="url(#ribv)" stroke="#1a1a1a" stroke-width="1" points="536,514 548,509.5 548,587 536,591"/>
<polyline class="s" points="532,505 532,585" style="stroke-width:0.5"/>
<polyline class="s" points="536,590 544,596 549,599" />
<polyline class="s" points="548,584 548,600" />
<polygon class="f" points="511,505 514,506 514,511 511,510" />
<rect fill="#fff" x="535.5" y="561.8" width="12.5" height="4.4"/>
<polyline class="s" points="534.6,564 580,564" />
<polyline class="s" points="465.5,526.5 465.5,514 516,542" />
<polygon class="w" points="448.8,535.4 465.5,526.5 517,555 517,573.7" />
<polyline class="s" points="448.8,535.4 448.8,538.5 517,576.5" />
<polygon class="s" points="456,543.6 471.5,535 496,548 480,556.5" />
<circle class="s" cx="484" cy="546" r="1.3"/><circle class="f" cx="471" cy="539" r="0.8"/>
<polyline class="s" points="481,557 517,575.5" style="stroke-width:1.8"/>
<polyline class="s" points="487,552.5 517,568" />
<circle class="f" cx="497.0" cy="556.0" r="0.5"/>
<circle class="f" cx="499.6" cy="557.35" r="0.5"/>
<circle class="f" cx="502.2" cy="558.7" r="0.5"/>
<circle class="f" cx="504.8" cy="560.05" r="0.5"/>
<circle class="f" cx="507.4" cy="561.4" r="0.5"/>
<circle class="f" cx="510.0" cy="562.75" r="0.5"/>
<polyline class="s" points="378,479.5 378,486" />
<polyline class="s" points="378,479.5 400,491.5 400,544 391,540" style="stroke-width:1.4"/>
<circle class="f" cx="397" cy="494" r="0.8"/><circle class="f" cx="397.5" cy="542" r="0.8"/>
<polygon class="w" points="378.8,486.5 382.5,484.5 391,489 391,494 387,496 378.8,491.5" style="stroke-width:1.3"/>
<polyline class="s" points="379.5,489 388,493.5 391,491.5" />
<polyline class="s" points="380,491 386,494.3" style="stroke-width:1.6"/>
<path class="w" d="M375.5,496.5 L375.5,521.0 a4.5,2 0 0 0 9,0 L384.5,496.5 z" style="stroke-width:1.3"/>
<ellipse class="w" cx="380" cy="496.5" rx="4.5" ry="2" style="stroke-width:1.3"/>
<polyline class="s" points="377.5,498.5 377.5,521.0" style="stroke-width:0.8"/>
<path class="w" d="M385.0,501 L385.0,526 a4.5,2 0 0 0 9,0 L394.0,501 z" style="stroke-width:1.3"/>
<ellipse class="w" cx="389.5" cy="501" rx="4.5" ry="2" style="stroke-width:1.3"/>
<polyline class="s" points="387.0,503 387.0,526" style="stroke-width:0.8"/>
<polygon class="w" points="375.5,521.5 379,520 382,521.5 382,529 379,530.5 375.5,529" style="stroke-width:1.3"/>
<ellipse class="f" cx="378.8" cy="522" rx="2.2" ry="1.2"/>
<polygon class="w" points="382,527 388,524 391,526 391,534 385,537 382,535" style="stroke-width:1.3"/>
<polyline class="s" points="385,525.5 385,536" style="stroke-width:1.6"/>
<polygon class="w" points="390,530 395,527.5 398,529 398,537 393,539.5 390,538" style="stroke-width:1.5"/>
<polyline class="s" points="393,529 393,539" style="stroke-width:1.2"/>
<polygon class="w" points="379,537 385,534 391,537 391,541.5 385,544.5 379,541.5" style="stroke-width:1.3"/>
<polyline class="s" points="380,539.5 386,542.5" />
<polyline class="s" points="381,541.5 385,543.5" style="stroke-width:1.2"/>
<polyline class="s" points="412,478.5 412,486" />
<polyline class="s" points="412,478.5 448,499 448,525 444,522" style="stroke-width:1.4"/>
<polyline class="s" points="416,504 432,513 447,522" />
<circle class="f" cx="414" cy="481" r="0.8"/><circle class="f" cx="445" cy="522" r="0.8"/><circle class="f" cx="444" cy="500" r="0.8"/>
<polygon class="w" points="408.4,485.7 412,484 432,494 432,499.5 428.5,501.5 408.4,491.5" style="stroke-width:1.3"/>
<polyline class="s" points="408.4,487.7 428.5,497.5 432,495.5" />
<polyline class="s" points="428.5,497.5 428.5,501.5" />
<polygon class="w" points="407.5,494 411,492.5 416,495 416,503.5 412.5,505 407.5,502.5" style="stroke-width:1.3"/>
<polyline class="s" points="411,496 411,504" />
<polyline class="s" points="414,497 414,503" style="stroke-width:1.4"/>
<polygon class="w" points="419.5,501.5 423.5,499.5 430,503 430,510.5 426,512.5 419.5,509" style="stroke-width:1.3"/>
<polyline class="s" points="419.5,503.5 426,507 430,505" />
<polyline class="s" points="426,507 426,512.5" />
<polygon class="w" points="426,507.5 433,504 437,506 430,510" style="stroke-width:1.3"/>
<polygon class="w" points="433.8,506 440.8,509.5 440.8,516.3 433.8,512.8" style="stroke-width:1.3"/>
<polyline class="s" points="436.5,507.5 436.5,514.5" style="stroke-width:1.2"/>
<polyline class="s" points="439,508.5 439,515.5" style="stroke-width:1.2"/>
<polygon class="w" points="409,439.5 412,437.5 421,441.5 418,443.5" />
<polygon class="w" points="409,439.5 418,443.5 418,449 409,445" />
<polygon class="w" points="418,443.5 421,441.5 421,447 418,449" />
<polyline class="s" points="413,442 413,447" />
<polyline class="s" points="415,443 415,448" />
<polygon class="w" points="334,557.5 343.5,552 348.5,554.5 348.5,557 351.5,559 351.5,574.5 342,580.5 339,580.5 334.5,578.5 334.5,577 330.5,573 330.5,566 332.5,563" style="stroke-width:1.3"/>
<polyline class="s" points="334,557.5 341,561.5 341,580.5" />
<polyline class="s" points="341,561.5 341,565 351.5,559.5" />
<polyline class="s" points="341,561.5 348.5,557" />
<polyline class="s" points="342,558 349,554.5" style="stroke-width:0.9"/>
<polyline class="s" points="344,561 350,558" style="stroke-width:0.9"/>
<ellipse class="f" cx="339" cy="558" rx="1.1" ry="1.4"/>
<polyline class="s" points="343.5,568.5 350,572" style="stroke-width:1.4"/>
<polyline class="s" points="346.5,567 361,575.5" style="stroke-width:1.4"/>
<polyline class="s" points="350,565 357,569" style="stroke-width:1.4"/>
<polygon class="w" points="377.5,579.5 391,572 404.5,579.5 406,599 394,606.5 379,599 378,594 379,589" />
<polyline class="s" points="377.5,579.5 391,587 404.5,579.5" />
<polyline class="s" points="391,587 393,606" />
<polyline class="s" points="392,584 404,577" />
<polyline class="s" points="392,588 405,581" />
<polygon class="f" points="393,603 406,596 406,599 394,606.5" />
<polygon class="w" points="410.5,591.5 416.5,588.5 431.5,597 431.5,626 425.5,628 410.5,618.5" />
<polyline class="s" points="410.5,591.5 425.5,600 431.5,597" />
<polyline class="s" points="425.5,600 425.5,628" />
<polygon class="f" points="415,590.5 428,597.5 425,599 412,592" />
<polyline class="s" points="435,593 435,622" />
<polygon class="w" points="385,660 405.6,671 405.6,709 380.6,696 380.6,664" style="stroke-width:1.3"/>
<polyline class="s" points="400,668.5 400,706" style="stroke-width:1"/>
<rect class="s" style="stroke-width:0.9;fill:#fff" x="401.2" y="675.5" width="3" height="3"/>
<rect class="s" style="stroke-width:0.9;fill:#fff" x="401.2" y="680.8" width="3" height="3"/>
<rect class="s" style="stroke-width:0.9;fill:#fff" x="401.2" y="686.1" width="3" height="3"/>
<rect class="s" style="stroke-width:0.9;fill:#fff" x="401.2" y="691.4" width="3" height="3"/>
<rect class="s" style="stroke-width:0.9;fill:#fff" x="401.2" y="696.7" width="3" height="3"/>
<rect class="s" style="stroke-width:0.9;fill:#fff" x="401.2" y="702.0" width="3" height="3"/>
<polygon class="w" points="387.5,666 400,672 400,685 387.5,679" style="stroke-width:1.3"/>
<polygon class="f" points="392.5,671.5 395,672.8 395,680.5 392.5,679.2" />
<polygon class="w" points="381,667 385,665 385,678 381,680" />
<polyline class="s" points="381,672 385,671" />
<polyline class="s" points="381.5,675.5 385,674" />
<polygon class="s" points="384,687 392,691 392,697 384,693" style="fill:#fff;stroke-width:1"/>
<polygon class="f" points="386,690 389,691.5 389,694.5 386,693" />
<path class="f" d="M391,690 l7,3.5 l0,8 l-3,-1.5 l-4,-2 z"/>
<polygon class="w" points="394,694 396.5,695.3 396.5,699 394,697.7" style="stroke-width:0"/>
<ellipse class="w" cx="389.5" cy="701.5" rx="2.3" ry="2"/>
<polyline class="s" points="384.4,659.4 384.4,663" />
<polygon class="w" points="436,650 449,641 460,646 448,655" />
<polygon class="w" points="435,655 448,659 448,670 435,665" />
<polygon class="w" points="437.5,656.5 446,659.5 446,668 437.5,664.5" />
<polygon class="w" points="448,655 460,646 460,665 450,671 448,670" />
<polyline class="s" points="436,650 435,655" />
<ellipse class="w" cx="449" cy="642" rx="2" ry="1.5" style="stroke-width:1.2;stroke-width:1.2"/><ellipse class="w" cx="458" cy="646.5" rx="2" ry="1.5"/>
<polygon class="w" points="457,656 462,655 462.5,660 457.5,661" />
<polyline class="s" points="459,661 459,667 456,668" />
</svg></body></html>
